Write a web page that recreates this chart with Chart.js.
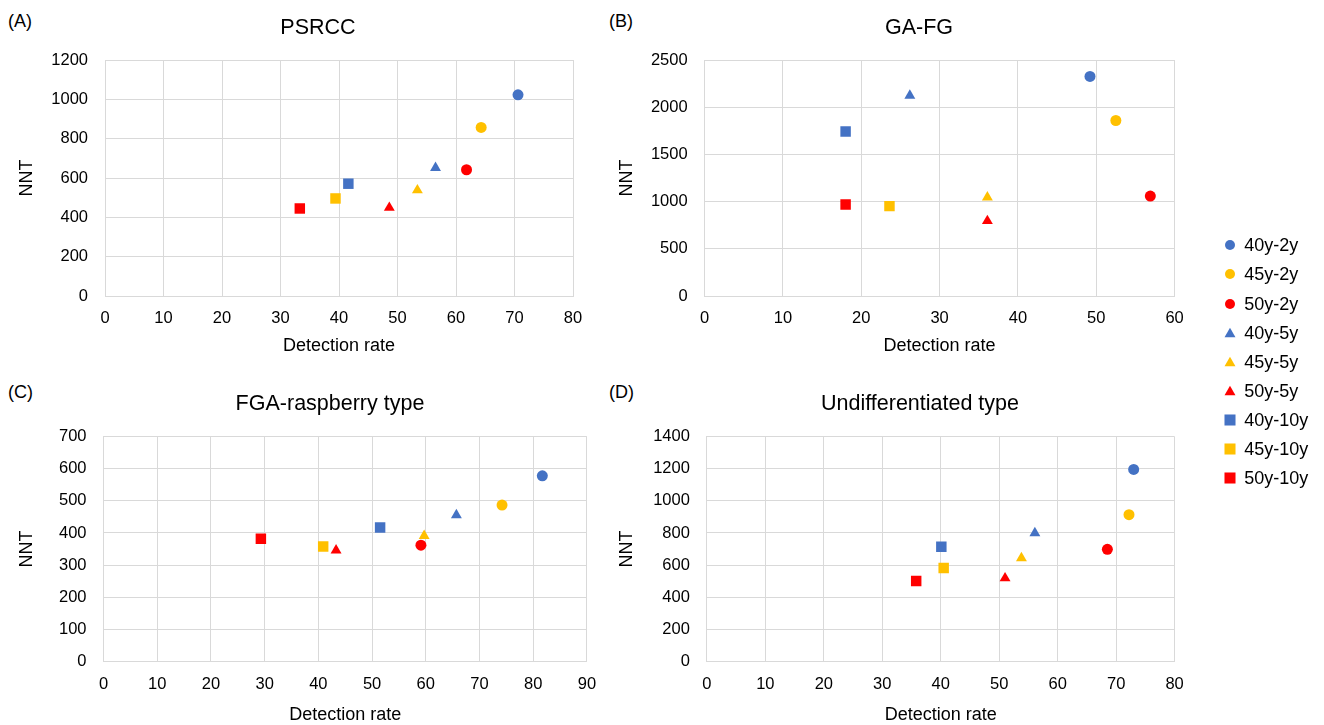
<!DOCTYPE html>
<html>
<head>
<meta charset="utf-8">
<script src="https://cdn.jsdelivr.net/npm/chart.js@4.4.1/dist/chart.umd.min.js"></script>
<style>
  html, body { margin: 0; padding: 0; background: #ffffff; }
  body { width: 1324px; height: 725px; position: relative; overflow: hidden;
         font-family: "Liberation Sans", Arial, sans-serif; color: #000; }
  canvas { position: absolute; }
  .panel { position: absolute; font-size: 18px; line-height: 20px; color: #000; }
  .leg { position: absolute; font-size: 18px; line-height: 20px; color: #000; white-space: nowrap; }
  .legm { position: absolute; }
</style>
</head>
<body>
<div class="panel" style="left:8px; top:11px;">(A)</div>
<div class="panel" style="left:609px; top:11px;">(B)</div>
<div class="panel" style="left:8px; top:382px;">(C)</div>
<div class="panel" style="left:609px; top:382px;">(D)</div>

<canvas id="cA" width="636" height="360" style="left:0px; top:0px;"></canvas>
<canvas id="cB" width="638" height="360" style="left:600px; top:0px;"></canvas>
<canvas id="cC" width="660" height="365" style="left:0px; top:360px;"></canvas>
<canvas id="cD" width="640" height="365" style="left:600px; top:360px;"></canvas>
<div id="legend"></div>

<script>
// ---------------- DATA ----------------
const seriesNames  = ['40y-2y', '45y-2y', '50y-2y', '40y-5y', '45y-5y', '50y-5y', '40y-10y', '45y-10y', '50y-10y'];
const seriesColors = ['#4472C4', '#FFC000', '#FF0000', '#4472C4', '#FFC000', '#FF0000', '#4472C4', '#FFC000', '#FF0000'];
const seriesShapes = ['circle', 'circle', 'circle', 'triangle', 'triangle', 'triangle', 'rect', 'rect', 'rect'];

const psrccX = [70.6, 64.3, 61.8, 56.5, 53.4, 48.6, 41.6, 39.4, 33.3];
const psrccY = [1023, 857, 642, 652, 538, 449, 571, 496, 445];

const gafgX = [49.2, 52.5, 56.9, 26.2, 36.1, 36.1, 18.0, 23.6, 18.0];
const gafgY = [2326, 1859, 1059, 2123, 1046, 795, 1742, 952, 970];

const raspX = [81.7, 74.2, 59.1, 65.7, 59.7, 43.3, 51.5, 40.9, 29.3];
const raspY = [578, 487, 362, 456, 391, 346, 417, 358, 382];

const undiffX = [73.0, 72.2, 68.5, 56.1, 53.8, 51.0, 40.1, 40.5, 35.8];
const undiffY = [1196, 914, 698, 799, 643, 518, 714, 581, 500];

const panelTitles = ['PSRCC', 'GA-FG', 'FGA-raspberry type', 'Undifferentiated type'];
const xAxisTitle = 'Detection rate';
const yAxisTitle = 'NNT';
// axis ranges: [xMax, xStep, yMax, yStep]
const rangesA = [80, 10, 1200, 200];
const rangesB = [60, 10, 2500, 500];
const rangesC = [90, 10, 700, 100];
const rangesD = [80, 10, 1400, 200];

// ---------------- STYLE ----------------
const FONT = '"Liberation Sans", Arial, sans-serif';
const GRID = '#d9d9d9';
const radiusFor = { circle: 5.5, triangle: 6.3, rect: 7.4 };
const plainNumber = (v) => String(v);

function makeChart(id, title, xs, ys, ranges, geo) {
  const datasets = seriesNames.map((name, i) => ({
    label: name,
    data: [{ x: xs[i], y: ys[i] }],
    pointStyle: seriesShapes[i],
    pointRadius: radiusFor[seriesShapes[i]],
    pointHoverRadius: radiusFor[seriesShapes[i]],
    backgroundColor: seriesColors[i],
    borderColor: seriesColors[i],
    pointBorderWidth: 0,
    showLine: false
  }));
  return new Chart(document.getElementById(id), {
    type: 'scatter',
    data: { datasets },
    options: {
      responsive: false,
      animation: false,
      devicePixelRatio: 1,
      layout: { padding: { left: 0, top: 0, right: 0, bottom: geo.padBottom } },
      plugins: {
        legend: { display: false },
        tooltip: { enabled: false },
        title: {
          display: true, text: title, color: '#000',
          font: { family: FONT, size: 21.5, weight: 'normal', lineHeight: 1.2 },
          padding: { top: geo.titleTop, bottom: geo.titleBottom }
        }
      },
      scales: {
        x: {
          type: 'linear', min: 0, max: ranges[0],
          ticks: { stepSize: ranges[1], padding: 13, color: '#000', maxRotation: 0,
                   callback: plainNumber, font: { family: FONT, size: 16.5 } },
          grid: { color: GRID, lineWidth: 1, drawTicks: false },
          border: { color: GRID, width: 1 },
          title: { display: true, text: xAxisTitle, color: '#000', padding: 0,
                   font: { family: FONT, size: 18, lineHeight: 1 } },
          afterFit: (s) => { s.height = geo.xHeight; }
        },
        y: {
          type: 'linear', position: 'left', min: 0, max: ranges[2],
          ticks: { stepSize: ranges[3], padding: 17, color: '#000',
                   callback: plainNumber, font: { family: FONT, size: 16.5 } },
          grid: { color: GRID, lineWidth: 1, drawTicks: false },
          border: { color: GRID, width: 1 },
          title: { display: true, text: yAxisTitle, color: '#000', padding: { top: 18, bottom: 0 },
                   font: { family: FONT, size: 18, lineHeight: 1 } },
          afterFit: (s) => { s.width = geo.yWidth; }
        },
        // empty right-hand margin so the title centres over the whole panel
        yRight: {
          type: 'linear', position: 'right', display: true,
          ticks: { display: false }, grid: { display: false }, border: { display: false },
          afterFit: (s) => { s.width = geo.padRight; }
        }
      }
    }
  });
}

makeChart('cA', panelTitles[0], psrccX, psrccY, rangesA,
  { padRight: 63, padBottom: 5, titleTop: 14.8, titleBottom: 19.4, xHeight: 59, yWidth: 105 });
makeChart('cB', panelTitles[1], gafgX, gafgY, rangesB,
  { padRight: 63.4, padBottom: 5, titleTop: 14.8, titleBottom: 19.4, xHeight: 59, yWidth: 104.6 });
makeChart('cC', panelTitles[2], raspX, raspY, rangesC,
  { padRight: 73.1, padBottom: 1, titleTop: 31.1, titleBottom: 19.8, xHeight: 62.7, yWidth: 103.5 });
makeChart('cD', panelTitles[3], undiffX, undiffY, rangesD,
  { padRight: 65.4, padBottom: 1, titleTop: 31.1, titleBottom: 19.8, xHeight: 62.7, yWidth: 106.9 });

// ---------------- LEGEND ----------------
const legendRadius = { circle: 5, triangle: 6.3, rect: 7.8 };
const legend = document.getElementById('legend');
seriesNames.forEach((name, i) => {
  const cy = 245.3 + i * 29.1;
  const c = document.createElement('canvas');
  c.width = 20; c.height = 20;
  c.className = 'legm';
  c.style.left = (1229.5 - 10) + 'px';
  c.style.top = (cy - 10) + 'px';
  legend.appendChild(c);
  const ctx = c.getContext('2d');
  ctx.fillStyle = seriesColors[i];
  ctx.strokeStyle = seriesColors[i];
  const opts = { pointStyle: seriesShapes[i], radius: legendRadius[seriesShapes[i]], rotation: 0, borderWidth: 0 };
  if (Chart.helpers && Chart.helpers.drawPoint) {
    Chart.helpers.drawPoint(ctx, opts, 10, seriesShapes[i] === 'triangle' ? 11 : 10);
  }
  const t = document.createElement('div');
  t.className = 'leg';
  t.textContent = name;
  t.style.left = '1244.3px';
  t.style.top = (cy - 10) + 'px';
  legend.appendChild(t);
});
</script>
</body>
</html>
